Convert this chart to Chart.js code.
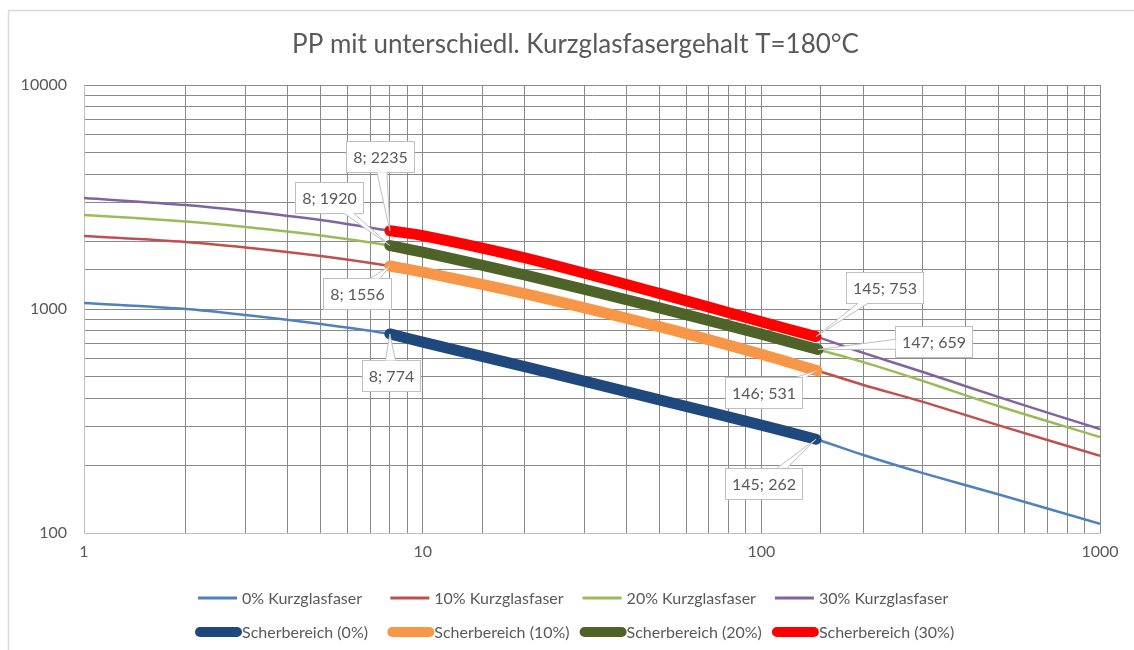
<!DOCTYPE html>
<html><head><meta charset="utf-8">
<script src="https://cdn.jsdelivr.net/npm/chart.js@4.4.1/dist/chart.umd.min.js"></script>
<style>html,body{margin:0;padding:0;background:#fff;}#wrap{position:relative;width:1134px;height:650px;}</style>
</head><body><div id="wrap"><canvas id="c" width="1134" height="650"></canvas></div>
<script>
// ---- data ----
const chartTitle = 'PP mit unterschiedl. Kurzglasfasergehalt T=180°C';
const shearRates = [1, 2, 3, 5, 8, 10, 20, 50, 100, 145, 200, 300, 500, 1000];
const visc0  = [1064, 1000, 940, 857, 774, 712, 553, 393, 303, 262, 223, 185, 149, 110];
const visc10 = [2119, 1992, 1883, 1724, 1556, 1462, 1171, 834, 628, 533, 458, 385, 303, 221];
const visc20 = [2630, 2458, 2323, 2128, 1920, 1796, 1419, 1011, 772, 663, 579, 477, 369, 268];
const visc30 = [3130, 2912, 2739, 2495, 2235, 2128, 1693, 1174, 877, 753, 637, 523, 405, 291];

const scher0X  = [8, 10, 20, 50, 100, 145];
const scher0Y  = [774, 712, 553, 393, 303, 262];
const scher10X = [8, 10, 20, 50, 100, 146];
const scher10Y = [1556, 1462, 1171, 834, 628, 531];
const scher20X = [8, 10, 20, 50, 100, 147];
const scher20Y = [1920, 1796, 1419, 1011, 772, 659];
const scher30X = [8, 10, 20, 50, 100, 145];
const scher30Y = [2235, 2128, 1693, 1174, 877, 753];

const seriesLabels = ['0% Kurzglasfaser', '10% Kurzglasfaser', '20% Kurzglasfaser', '30% Kurzglasfaser',
  'Scherbereich (0%)', 'Scherbereich (10%)', 'Scherbereich (20%)', 'Scherbereich (30%)'];
const xTickLabels = [1, 10, 100, 1000];
const yTickLabels = [100, 1000, 10000];

// ---- styles ----
const thinColors = ['#4F81BD', '#C0504D', '#9BBB59', '#8064A2'];
const thickColors = ['#1F497D', '#F79646', '#4F6228', '#FF0000'];
const FONT = 'Lato, "Open Sans", sans-serif';
const TEXT = '#595959';

const pts = (xs, ys) => xs.map((x, i) => ({x: x, y: ys[i]}));
const thinData = [visc0, visc10, visc20, visc30].map(v => pts(shearRates, v));
const thickData = [pts(scher0X, scher0Y), pts(scher10X, scher10Y), pts(scher20X, scher20Y), pts(scher30X, scher30Y)];

const datasets = [];
thinData.forEach((d, i) => datasets.push({label: seriesLabels[i], data: d, borderColor: thinColors[i],
  backgroundColor: thinColors[i], borderWidth: 2.5, order: 2, thick: false}));
thickData.forEach((d, i) => datasets.push({label: seriesLabels[4 + i], data: d, borderColor: thickColors[i],
  backgroundColor: thickColors[i], borderWidth: 11, order: 1, thick: true,
  borderCapStyle: 'round', borderJoinStyle: 'round'}));

const frame = {
  id: 'frame',
  beforeDraw(chart) {
    const c = chart.ctx;
    c.save();
    c.fillStyle = '#fff'; c.fillRect(0, 0, chart.width, chart.height);
    c.strokeStyle = '#d9d9d9'; c.lineWidth = 1.5;
    c.beginPath(); c.moveTo(8.5, 650); c.lineTo(8.5, 10.5); c.lineTo(1134, 10.5); c.stroke();
    c.restore();
  }
};

const callouts = {
  id: 'callouts',
  afterDatasetsDraw(chart, args, opts) {
    const c = chart.ctx, xs = chart.scales.x, ys = chart.scales.y;
    c.save();
    c.font = opts.font;
    opts.items.forEach(it => {
      const d = chart.data.datasets[it.ds].data[it.idx];
      const px = xs.getPixelForValue(d.x), py = ys.getPixelForValue(d.y);
      const text = d.x + '; ' + d.y;
      const w = Math.round(c.measureText(text).width + 13), h = 31;
      const cx = px + it.dx, cy = py + it.dy;
      const l = Math.round(cx - w / 2) + 0.5, t = Math.round(cy - h / 2) + 0.5;
      const vx = px - cx, vy = py - cy;
      const fx = vx !== 0 ? (w / 2) / Math.abs(vx) : Infinity;
      const fy = vy !== 0 ? (h / 2) / Math.abs(vy) : Infinity;
      const f = Math.min(fx, fy);
      const bx = cx + vx * f, by = cy + vy * f;
      let b1, b2;
      if (fx < fy) { b1 = [bx, by - 5]; b2 = [bx, by + 5]; }
      else { b1 = [bx - 5, by]; b2 = [bx + 5, by]; }
      c.fillStyle = '#fff'; c.strokeStyle = '#bfbfbf'; c.lineWidth = 1;
      c.fillRect(l, t, w, h); c.strokeRect(l, t, w, h);
      c.beginPath(); c.moveTo(b1[0], b1[1]); c.lineTo(px, py); c.lineTo(b2[0], b2[1]); c.closePath(); c.fill();
      c.beginPath(); c.moveTo(b1[0], b1[1]); c.lineTo(px, py); c.lineTo(b2[0], b2[1]); c.stroke();
      c.fillStyle = TEXT; c.textAlign = 'center'; c.textBaseline = 'middle';
      c.fillText(text, l + w / 2, t + h / 2 + 1);
    });
    c.restore();
  }
};

const legendDraw = {
  id: 'legendDraw',
  afterDraw(chart, args, opts) {
    const c = chart.ctx;
    c.save();
    c.font = opts.font; c.textBaseline = 'middle'; c.textAlign = 'left';
    chart.data.datasets.forEach((ds, i) => {
      const row = i < 4 ? 0 : 1, col = i % 4;
      const tx = opts.x0 + col * opts.colW, ty = opts.rows[row];
      c.strokeStyle = ds.borderColor;
      c.beginPath();
      if (ds.thick) { c.lineWidth = 10; c.lineCap = 'round'; c.moveTo(tx - 42, ty); c.lineTo(tx - 5, ty); }
      else { c.lineWidth = 3; c.lineCap = 'butt'; c.moveTo(tx - 44, ty); c.lineTo(tx - 5, ty); }
      c.stroke();
      c.fillStyle = TEXT;
      c.fillText(ds.label, tx, ty + 1);
    });
    c.restore();
  }
};

Chart.defaults.font.family = FONT;
Chart.defaults.color = TEXT;

new Chart(document.getElementById('c'), {
  type: 'scatter',
  data: {datasets: datasets},
  plugins: [frame, callouts, legendDraw],
  options: {
    responsive: false, animation: false,
    showLine: true,
    elements: {point: {radius: 0, hoverRadius: 0}, line: {tension: 0.3}},
    layout: {padding: {left: 17, right: 0, top: 0, bottom: 0}},
    scales: {
      x: {
        type: 'logarithmic', min: 1, max: 1000, position: 'bottom',
        afterFit: s => { s.height = 117; },
        grid: {color: '#8a8a8a', lineWidth: 1, drawTicks: false},
        border: {color: '#bfbfbf', width: 1},
        ticks: {autoSkip: false, maxRotation: 0, padding: 9, font: {size: 16}, color: TEXT,
          callback: v => xTickLabels.includes(v) ? String(v) : ''}
      },
      y: {
        type: 'logarithmic', min: 100, max: 10000,
        afterFit: s => { s.width = 67; },
        grid: {color: '#8a8a8a', lineWidth: 1, drawTicks: false},
        border: {color: '#bfbfbf', width: 1},
        ticks: {autoSkip: false, padding: 17, font: {size: 16}, color: TEXT,
          callback: v => yTickLabels.includes(v) ? String(v) : ''}
      },
      yRight: {
        type: 'linear', position: 'right', display: true,
        afterFit: s => { s.width = 34; },
        grid: {display: false, drawTicks: false}, border: {display: false},
        ticks: {display: false}
      }
    },
    plugins: {
      legend: {display: false},
      tooltip: {enabled: false},
      title: {display: true, text: chartTitle, color: TEXT, font: {size: 26, weight: 'normal'},
        padding: {top: 29.4, bottom: 24.4}},
      callouts: {font: '16px ' + FONT, items: [
        {ds: 7, idx: 0, dx: -10, dy: -74},
        {ds: 6, idx: 0, dx: -61, dy: -48},
        {ds: 5, idx: 0, dx: -33, dy: 28},
        {ds: 4, idx: 0, dx: 1, dy: 42},
        {ds: 7, idx: 5, dx: 69, dy: -49},
        {ds: 6, idx: 5, dx: 116, dy: -8},
        {ds: 5, idx: 5, dx: -53, dy: 22},
        {ds: 4, idx: 5, dx: -52, dy: 44}
      ]},
      legendDraw: {font: '16px ' + FONT, x0: 242, colW: 192.3, rows: [598, 632]}
    }
  }
});
</script></body></html>
